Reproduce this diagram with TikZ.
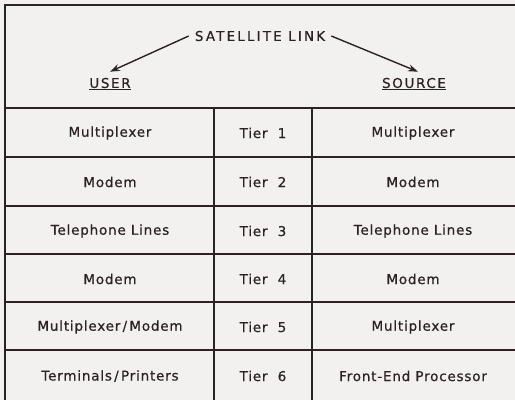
\documentclass[tikz,border=0pt]{standalone}
\usepackage{fontspec}
\setmainfont{DejaVu Sans}[LetterSpace=6,FakeBold=0.6]
\usetikzlibrary{arrows.meta}
\definecolor{ink}{HTML}{2B2222}
\definecolor{paper}{HTML}{F3F1EF}
\begin{document}
\begin{tikzpicture}[x=1pt,y=-1pt,
  rule/.style={draw=ink,line width=1.6pt},
  cell/.style={text=ink,font=\fontsize{13.5}{15}\selectfont,inner sep=0pt},
  head/.style={cell,font=\fontsize{13.5}{15}\selectfont\addfontfeature{LetterSpace=12}},
  title/.style={cell,font=\fontsize{13.5}{15}\selectfont\addfontfeature{LetterSpace=16}},
  link/.style={draw=ink,line width=1.4pt,-{Stealth[length=10pt,width=7pt]}}]
  \fill[paper] (0,0) rectangle (515,400);
  \useasboundingbox (0,0) rectangle (515,400);
  % outer frame: top and left edges
  \draw[rule] (515,5) -- (5,5) -- (5,400);
  % row rules
  \foreach \y in {108,157,206,254,302,350}
    \draw[rule] (5,\y) -- (515,\y);
  % column rules
  \draw[rule] (214,108) -- (214,400);
  \draw[rule] (312,108) -- (312,400);
  % heading
  \node[title] (sat) at (260,36) {SATELLITE LINK};
  \node[head] (user) at (110,84) {\underline{USER}};
  \node[head] (source) at (414,84) {\underline{SOURCE}};
  \draw[link] ([xshift=-6pt]sat.west) -- ([yshift=6pt]user.north);
  \draw[link] ([xshift=6pt]sat.east) -- ([yshift=6pt,xshift=4pt]source.north);
  % table body
  \foreach \i/\u/\s [count=\n] in {
      133/{Multiplexer}/{Multiplexer},
      182/{Modem}/{Modem},
      231/{Telephone Lines}/{Telephone Lines},
      279/{Modem}/{Modem},
      327/{Multiplexer\,/\,Modem}/{Multiplexer},
      376/{Terminals\,/\,Printers}/{Front-End Processor}} {
    \node[cell] (u\n) at (110,\i) {\u};
    \node[cell] (t\n) at (263,\i) {Tier\ \ \n};
    \node[cell] (s\n) at (413,\i) {\s};
  }
\end{tikzpicture}
\end{document}
